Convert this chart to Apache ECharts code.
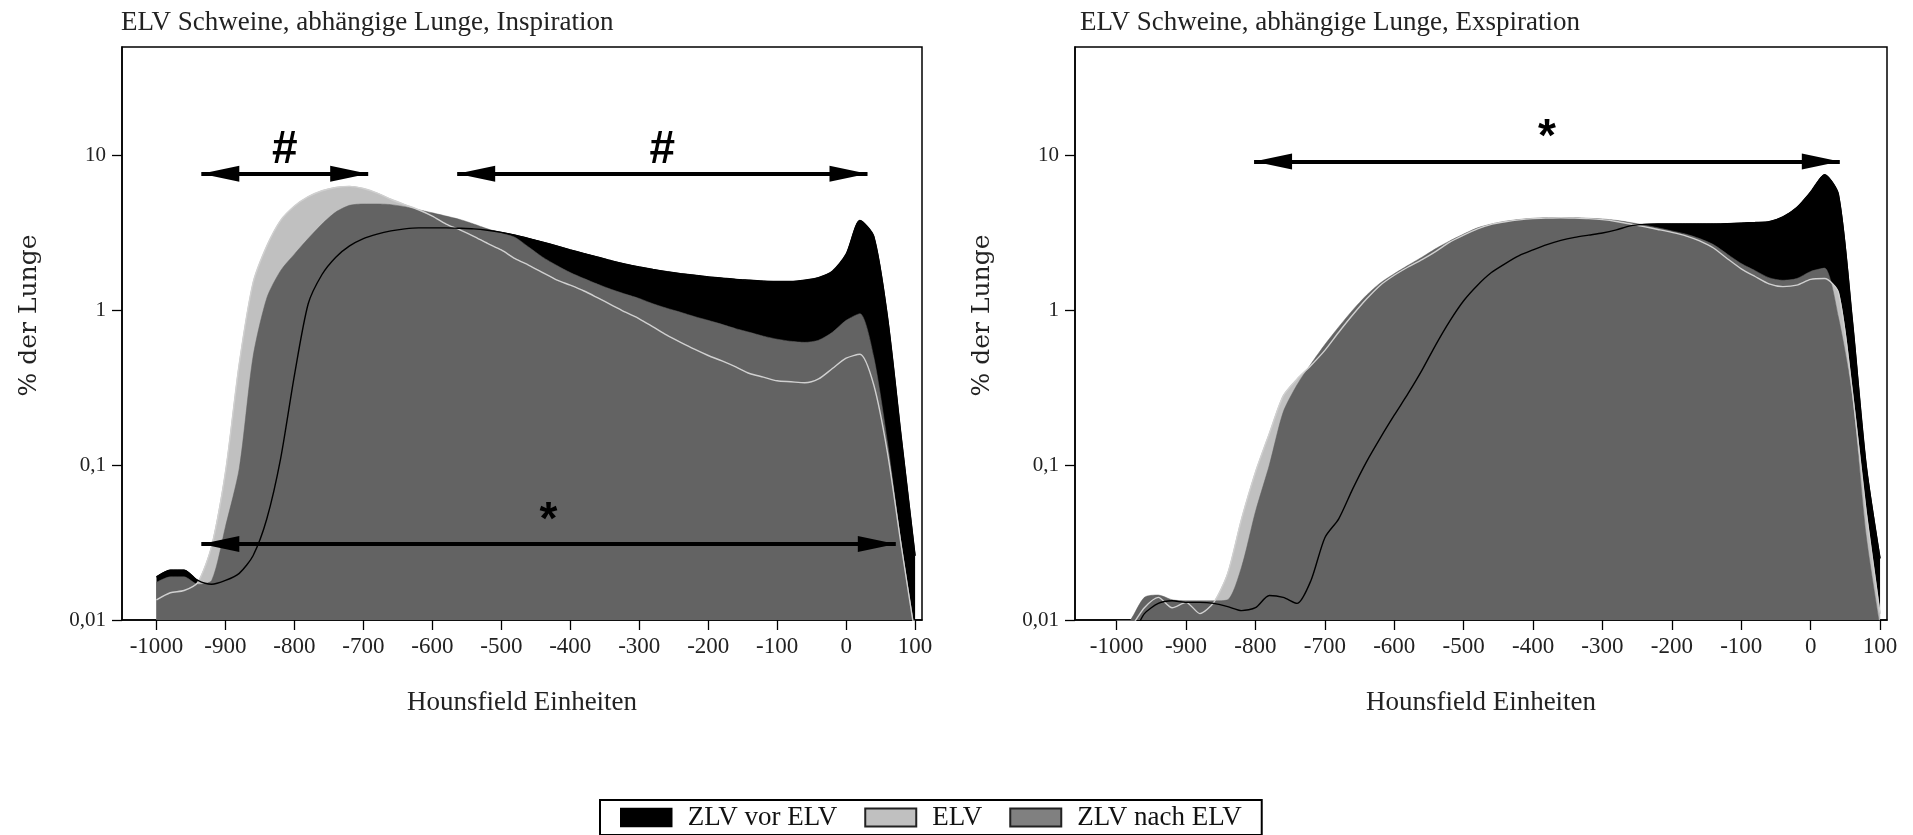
<!DOCTYPE html>
<html><head><meta charset="utf-8">
<script src="https://cdn.jsdelivr.net/npm/echarts@6/dist/echarts.min.js"></script>
<style>html,body{margin:0;padding:0;background:#fff}#c{width:1913px;height:835px}</style>
</head><body><div id="c"></div>
<script>
// Hounsfield units (x positions of the histogram points)
const hu = [-1000,-980,-960,-940,-920,-900,-880,-860,-840,-820,-800,-780,-760,-740,-720,-700,-680,-660,-640,-620,-600,-580,-560,-540,-520,-500,-480,-460,-440,-420,-400,-380,-360,-340,-320,-300,-280,-260,-240,-220,-200,-180,-160,-140,-120,-100,-80,-60,-40,-20,0,20,40,60,80,100];

// Inspiration (left panel), % der Lunge
const inspVor  = [0.019,0.021,0.021,0.018,0.017,0.018,0.020,0.026,0.045,0.11,0.38,1.1,1.7,2.2,2.6,2.9,3.1,3.25,3.35,3.4,3.4,3.4,3.38,3.35,3.28,3.18,3.05,2.9,2.75,2.6,2.45,2.32,2.2,2.08,1.98,1.9,1.83,1.77,1.72,1.68,1.64,1.61,1.58,1.56,1.54,1.53,1.53,1.56,1.62,1.78,2.3,3.8,3.0,0.9,0.15,0.026];
const inspElv  = [0.0135,0.015,0.0155,0.0175,0.03,0.09,0.45,1.5,2.6,3.8,4.7,5.4,5.9,6.2,6.3,6.1,5.7,5.2,4.8,4.45,4.05,3.6,3.3,3.0,2.7,2.45,2.15,1.95,1.75,1.57,1.45,1.33,1.2,1.08,0.97,0.88,0.78,0.69,0.62,0.56,0.51,0.47,0.43,0.39,0.37,0.35,0.345,0.34,0.36,0.42,0.49,0.52,0.33,0.12,0.03,0.008];
const inspNach = [0.0175,0.019,0.019,0.017,0.018,0.04,0.095,0.5,1.2,1.8,2.3,2.9,3.6,4.3,4.75,4.85,4.85,4.8,4.65,4.45,4.25,4.05,3.85,3.6,3.35,3.15,2.95,2.55,2.2,1.95,1.75,1.6,1.47,1.36,1.27,1.19,1.1,1.03,0.97,0.91,0.86,0.81,0.76,0.72,0.68,0.65,0.63,0.62,0.64,0.72,0.86,0.95,0.5,0.14,0.03,0.008];

// Exspiration (right panel), % der Lunge
const expVor  = [0.008,0.008,0.011,0.0128,0.0133,0.013,0.013,0.0128,0.0122,0.0115,0.012,0.0144,0.014,0.0128,0.018,0.034,0.045,0.07,0.105,0.15,0.21,0.29,0.41,0.6,0.85,1.15,1.45,1.75,2.0,2.25,2.45,2.65,2.82,2.95,3.05,3.15,3.3,3.5,3.58,3.6,3.6,3.6,3.6,3.6,3.62,3.65,3.68,3.72,4.0,4.6,5.8,7.5,5.6,0.87,0.1,0.025];
const expElv  = [0.008,0.009,0.012,0.014,0.012,0.013,0.011,0.013,0.02,0.045,0.09,0.16,0.28,0.36,0.44,0.55,0.72,0.93,1.18,1.45,1.68,1.9,2.12,2.4,2.75,3.05,3.35,3.58,3.72,3.83,3.9,3.93,3.95,3.93,3.9,3.84,3.74,3.6,3.46,3.32,3.18,3.02,2.8,2.52,2.15,1.85,1.65,1.48,1.42,1.45,1.58,1.6,1.3,0.3,0.05,0.011];
const expNach = [0.008,0.01,0.014,0.0145,0.0135,0.0133,0.0133,0.0133,0.0135,0.022,0.05,0.1,0.22,0.33,0.45,0.6,0.78,1.0,1.25,1.5,1.72,1.95,2.2,2.5,2.8,3.1,3.4,3.6,3.75,3.85,3.92,3.95,3.96,3.95,3.92,3.88,3.8,3.68,3.55,3.4,3.25,3.1,2.9,2.65,2.3,2.0,1.8,1.62,1.56,1.6,1.78,1.87,0.9,0.28,0.035,0.009];

// significance arrows: [from HU, to HU, level, symbol]
const inspArrows = [[-935,-693,7.6,'#'],[-564,31,7.6,'#'],[-935,72,0.031,'*']];
const expArrows  = [[-802,42,9.1,'*']];

// axes
const xTicks = [-1000,-900,-800,-700,-600,-500,-400,-300,-200,-100,0,100];
const yTicks = [0.01,0.1,1,10];
const yTickLabels = ['0,01','0,1','1','10'];

const seriesNames = ['ZLV vor ELV','ELV','ZLV nach ELV'];
const titles = ['ELV Schweine, abhängige Lunge, Inspiration','ELV Schweine, abhängige Lunge, Exspiration'];

const SERIF = "'Liberation Serif','Times New Roman',serif";
const cBlack = '#000000', cLight = '#c0c0c0', cDark = '#636363';

function pairs(ys){ return hu.map((x,i)=>[x, ys[i]]); }

function yLabel(v){
  const i = yTicks.findIndex(t => Math.abs(Math.log10(t) - Math.log10(v)) < 1e-6);
  return i >= 0 ? yTickLabels[i] : '';
}

function panel(idx, vor, elv, nach, arrows){
  const base = {type:'line', xAxisIndex:idx, yAxisIndex:idx, showSymbol:false, symbol:'none', smooth:0.25, clip:true, silent:true, animation:false};
  const arrowData = arrows.map(a => [
    {coord:[a[0], a[2]], symbol:'triangle', symbolSize:[16,38], symbolOffset:[0,'50%'],
     label:{show:true, formatter:a[3]}},
    {coord:[a[1], a[2]], symbol:'triangle', symbolSize:[16,38], symbolOffset:[0,'50%']}
  ]);
  return [
    Object.assign({}, base, {name:seriesNames[0], z:2, data:pairs(vor),
      itemStyle:{color:cBlack}, lineStyle:{color:cBlack, width:1}, areaStyle:{color:cBlack, opacity:1, origin:'start'}}),
    Object.assign({}, base, {name:seriesNames[1], z:3, data:pairs(elv),
      itemStyle:{color:cLight}, lineStyle:{color:cLight, width:1}, areaStyle:{color:cLight, opacity:1, origin:'start'}}),
    Object.assign({}, base, {name:seriesNames[2], z:4, data:pairs(nach),
      itemStyle:{color:cDark}, lineStyle:{color:cDark, width:0.5}, areaStyle:{color:cDark, opacity:1, origin:'start'}}),
    Object.assign({}, base, {name:seriesNames[1], z:5, data:pairs(elv),
      itemStyle:{color:cLight}, lineStyle:{color:'#d0d0d0', width:1.4}}),
    Object.assign({}, base, {name:seriesNames[0], z:6, data:pairs(vor),
      itemStyle:{color:cBlack}, lineStyle:{color:cBlack, width:1.4},
      markLine:{silent:true, animation:false, z:10,
        lineStyle:{color:'#000', width:4, type:'solid'},
        label:{show:true, position:'middle', distance:0, color:'#000', fontFamily:"'Liberation Sans',Arial,sans-serif", fontWeight:'bold', fontSize:46},
        emphasis:{disabled:true},
        data:arrowData}})
  ];
}

function xAxis(idx, min){
  return {type:'value', gridIndex:idx, min:min, max:110,
    axisLine:{show:true, onZero:false, lineStyle:{color:'#000', width:1.5}},
    axisTick:{show:true, length:10, inside:false, customValues:xTicks, lineStyle:{color:'#000', width:1.3}},
    axisLabel:{show:true, customValues:xTicks, margin:15, color:'#222', fontFamily:SERIF, fontSize:23, formatter:v=>String(v)},
    splitLine:{show:false},
    name:'Hounsfield Einheiten', nameLocation:'middle', nameGap:69,
    nameTextStyle:{color:'#222', fontFamily:SERIF, fontSize:27}};
}
function yAxis(idx){
  return {type:'log', logBase:10, gridIndex:idx, min:0.01, max:50,
    axisLine:{show:true, onZero:false, lineStyle:{color:'#000', width:1.5}},
    axisTick:{show:true, length:10, customValues:yTicks, lineStyle:{color:'#000', width:1.3}},
    axisLabel:{show:true, customValues:yTicks, margin:16, color:'#222', fontFamily:SERIF, fontSize:21, formatter:yLabel},
    splitLine:{show:false}, minorTick:{show:false}, minorSplitLine:{show:false},
    name:'% der Lunge', nameLocation:'middle', nameGap:80, nameRotate:90,
    nameTextStyle:{color:'#222', fontFamily:"'DejaVu Serif',serif", fontSize:25, padding:[0,0,0,36]}};
}

const option = {
  backgroundColor:'#fff',
  animation:false,
  title:[
    {text:titles[0], left:116, top:4, textStyle:{fontFamily:SERIF, fontWeight:'normal', fontSize:27, color:'#222'}},
    {text:titles[1], left:1075, top:4, textStyle:{fontFamily:SERIF, fontWeight:'normal', fontSize:27, color:'#222'}}
  ],
  grid:[
    {left:122, top:47, width:800, height:573, show:true, borderColor:'#000', borderWidth:1.5, backgroundColor:'transparent'},
    {left:1075, top:47, width:812, height:573, show:true, borderColor:'#000', borderWidth:1.5, backgroundColor:'transparent'}
  ],
  xAxis:[xAxis(0,-1050), xAxis(1,-1060)],
  yAxis:[yAxis(0), yAxis(1)],
  legend:{
    left:600, top:800, orient:'horizontal',
    borderColor:'#000', borderWidth:2, padding:[4,20,4,20],
    itemWidth:51, itemHeight:18, itemGap:27,
    icon:'rect', selectedMode:false,
    textStyle:{fontFamily:SERIF, fontSize:27, color:'#111', padding:[0,0,0,11]},
    data:[
      {name:seriesNames[0], itemStyle:{color:'#000', borderColor:'#000', borderWidth:1.5}},
      {name:seriesNames[1], itemStyle:{color:'#c0c0c0', borderColor:'#222', borderWidth:2}},
      {name:seriesNames[2], itemStyle:{color:'#808080', borderColor:'#222', borderWidth:2}}
    ]
  },
  series:[].concat(panel(0, inspVor, inspElv, inspNach, inspArrows), panel(1, expVor, expElv, expNach, expArrows))
};

const chart = echarts.init(document.getElementById('c'), null, {renderer:'canvas'});
chart.setOption(option);
</script>
</body></html>
